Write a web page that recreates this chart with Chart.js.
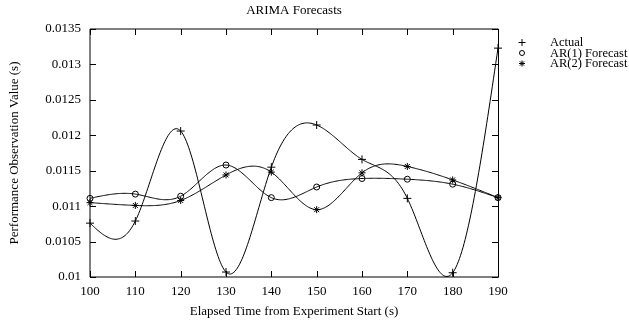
<!DOCTYPE html>
<html>
<head>
<meta charset="utf-8">
<title>ARIMA Forecasts</title>
<script src="https://cdn.jsdelivr.net/npm/chart.js@4.4.0/dist/chart.umd.min.js"></script>
<style>
    html, body { margin: 0; padding: 0; background: #fff; }
    #wrap { width: 629px; height: 322px; }
</style>
</head>
<body>
<div id="wrap"><canvas id="arimaChart" width="629" height="322"></canvas></div>
<script>
// ----------------------------------------------------------------------------
// Data
// ----------------------------------------------------------------------------
const elapsedTimes = [100, 110, 120, 130, 140, 150, 160, 170, 180, 190];

const actualValues = [0.01076, 0.01079, 0.01206, 0.01007, 0.01155, 0.012145, 0.01166, 0.01111, 0.01006, 0.01323];
const ar1Values    = [0.01111, 0.01117, 0.01114, 0.01158, 0.01112, 0.01127, 0.01139, 0.01138, 0.01131, 0.01112];
const ar2Values    = [0.01105, 0.01101, 0.01108, 0.01144, 0.01148, 0.01095, 0.01147, 0.01156, 0.01137, 0.01112];

const seriesLabels = ['Actual', 'AR(1) Forecast', 'AR(2) Forecast'];

const xTickValues = [100, 110, 120, 130, 140, 150, 160, 170, 180, 190];
const yTickValues = [0.01, 0.0105, 0.011, 0.0115, 0.012, 0.0125, 0.013, 0.0135];
const yTickLabels = ['0.01', '0.0105', '0.011', '0.0115', '0.012', '0.0125', '0.013', '0.0135'];

// ----------------------------------------------------------------------------
// Helpers
// ----------------------------------------------------------------------------
const FONT = "'Liberation Serif', 'Times New Roman', serif";
Chart.defaults.font.family = FONT;
Chart.defaults.color = '#000';

function toPoints(values) {
    return values.map((v, i) => ({ x: elapsedTimes[i], y: v }));
}

// natural cubic spline through the data points (like gnuplot "smooth csplines")
function naturalSpline(xs, ys) {
    const n = xs.length;
    const h = [], b = [], c = [], d = [];
    const l = [1], mu = [0], z = [0];
    for (let i = 0; i < n - 1; i++) h[i] = xs[i + 1] - xs[i];
    for (let i = 1; i < n - 1; i++) {
        const alpha = 3 / h[i] * (ys[i + 1] - ys[i]) - 3 / h[i - 1] * (ys[i] - ys[i - 1]);
        l[i] = 2 * (xs[i + 1] - xs[i - 1]) - h[i - 1] * mu[i - 1];
        mu[i] = h[i] / l[i];
        z[i] = (alpha - h[i - 1] * z[i - 1]) / l[i];
    }
    c[n - 1] = 0;
    for (let j = n - 2; j >= 0; j--) {
        c[j] = z[j] - mu[j] * c[j + 1];
        b[j] = (ys[j + 1] - ys[j]) / h[j] - h[j] * (c[j + 1] + 2 * c[j]) / 3;
        d[j] = (c[j + 1] - c[j]) / (3 * h[j]);
    }
    return function (x) {
        let j = 0;
        while (j < n - 2 && x > xs[j + 1]) j++;
        const dx = x - xs[j];
        return ys[j] + b[j] * dx + c[j] * dx * dx + d[j] * dx * dx * dx;
    };
}

// smooth lines under the point markers
const splinePlugin = {
    id: 'splineLines',
    beforeDatasetsDraw(chart) {
        const { ctx, chartArea, scales } = chart;
        ctx.save();
        ctx.beginPath();
        ctx.rect(chartArea.left, chartArea.top, chartArea.right - chartArea.left, chartArea.bottom - chartArea.top);
        ctx.clip();
        ctx.strokeStyle = '#000';
        ctx.lineWidth = 1;
        chart.data.datasets.forEach(ds => {
            const xs = ds.data.map(p => p.x);
            const ys = ds.data.map(p => p.y);
            const f = naturalSpline(xs, ys);
            ctx.beginPath();
            for (let t = xs[0]; t <= xs[xs.length - 1] + 1e-9; t += 0.25) {
                const px = scales.x.getPixelForValue(t);
                const py = scales.y.getPixelForValue(f(t));
                if (t === xs[0]) ctx.moveTo(px, py); else ctx.lineTo(px, py);
            }
            ctx.stroke();
        });
        ctx.restore();
    }
};

// gnuplot-like frame with inward ticks on all four sides
const framePlugin = {
    id: 'frame',
    beforeDatasetsDraw(chart) {
        const { ctx, chartArea: a, scales } = chart;
        const tick = 6;
        ctx.save();
        ctx.strokeStyle = '#000';
        ctx.lineWidth = 1;
        ctx.beginPath();
        ctx.moveTo(a.right + 0.5, a.top);
        ctx.lineTo(a.left, a.top);
        ctx.lineTo(a.left, a.bottom);
        ctx.lineTo(a.right + 0.5, a.bottom);
        ctx.stroke();
        ctx.beginPath();
        ctx.moveTo(a.right + 0.5, a.top);
        ctx.lineTo(a.right + 0.5, a.bottom);
        ctx.stroke();
        ctx.beginPath();
        xTickValues.forEach(v => {
            const px = Math.round(scales.x.getPixelForValue(v)) + 0.5;
            ctx.moveTo(px, a.bottom); ctx.lineTo(px, a.bottom - tick);
            ctx.moveTo(px, a.top); ctx.lineTo(px, a.top + tick);
        });
        yTickValues.forEach(v => {
            const py = Math.round(scales.y.getPixelForValue(v)) + 0.5;
            ctx.moveTo(a.left, py); ctx.lineTo(a.left + tick, py);
            ctx.moveTo(a.right + 0.5, py); ctx.lineTo(a.right - tick, py);
        });
        ctx.stroke();
        ctx.restore();
    }
};

// key to the right of the plot, markers only
const keyPlugin = {
    id: 'key',
    afterDraw(chart) {
        const { ctx, chartArea: a } = chart;
        ctx.save();
        ctx.font = '12.5px ' + FONT;
        ctx.textBaseline = 'middle';
        ctx.textAlign = 'left';
        chart.data.datasets.forEach((ds, i) => {
            const y = a.top + 13.5 + i * 10.5;
            ctx.strokeStyle = '#000';
            ctx.fillStyle = 'rgba(0,0,0,0)';
            ctx.lineWidth = 1;
            Chart.helpers.drawPoint(ctx, {
                pointStyle: ds.pointStyle,
                radius: ds.pointRadius - 0.5,
                rotation: 0,
                borderWidth: 1
            }, a.right + 24, y);
            ctx.fillStyle = '#000';
            ctx.fillText(ds.label, a.right + 52, y + 0.5);
        });
        ctx.restore();
    }
};

function makeDataset(label, values, style, radius) {
    return {
        label: label,
        data: toPoints(values),
        showLine: false,
        pointStyle: style,
        pointRadius: radius,
        pointHoverRadius: radius,
        pointBorderWidth: 1,
        pointBorderColor: '#000',
        pointBackgroundColor: 'rgba(0,0,0,0)',
        borderColor: '#000',
        clip: false
    };
}

const ctx = document.getElementById('arimaChart').getContext('2d');

const chart = new Chart(ctx, {
    type: 'scatter',
    data: {
        datasets: [
            makeDataset(seriesLabels[0], actualValues, 'cross', 4),
            makeDataset(seriesLabels[1], ar1Values, 'circle', 3),
            makeDataset(seriesLabels[2], ar2Values, 'star', 3.5)
        ]
    },
    options: {
        responsive: false,
        animation: false,
        events: [],
        layout: {
            padding: { left: 0, right: 131, top: 0, bottom: 0 }
        },
        plugins: {
            legend: { display: false },
            tooltip: { enabled: false },
            title: {
                display: true,
                text: 'ARIMA Forecasts',
                fullSize: false,
                color: '#000',
                font: { size: 13, weight: 'normal' },
                padding: { top: 3, bottom: 10.4 }
            }
        },
        scales: {
            x: {
                type: 'linear',
                min: 100,
                max: 190,
                afterBuildTicks: s => { s.ticks = xTickValues.map(v => ({ value: v })); },
                afterFit: s => { s.height = 45; },
                grid: { display: false, drawTicks: false },
                border: { display: false },
                ticks: {
                    color: '#000',
                    font: { size: 13 },
                    padding: 7,
                    maxRotation: 0,
                    autoSkip: false,
                    callback: v => String(v)
                },
                title: {
                    display: true,
                    text: 'Elapsed Time from Experiment Start (s)',
                    color: '#000',
                    font: { size: 13 },
                    padding: { top: 0, bottom: 3 }
                }
            },
            y: {
                type: 'linear',
                min: 0.01,
                max: 0.0135,
                afterBuildTicks: s => { s.ticks = yTickValues.map(v => ({ value: v })); },
                afterFit: s => { s.width = 90; },
                grid: { display: false, drawTicks: false },
                border: { display: false },
                ticks: {
                    color: '#000',
                    font: { size: 13 },
                    padding: 9,
                    autoSkip: false,
                    callback: (v, i) => yTickLabels[i]
                },
                title: {
                    display: true,
                    text: 'Performance Observation Value (s)',
                    color: '#000',
                    font: { size: 13 },
                    padding: { top: 7, bottom: 0 }
                }
            }
        }
    },
    plugins: [framePlugin, splinePlugin, keyPlugin]
});
</script>
</body>
</html>
